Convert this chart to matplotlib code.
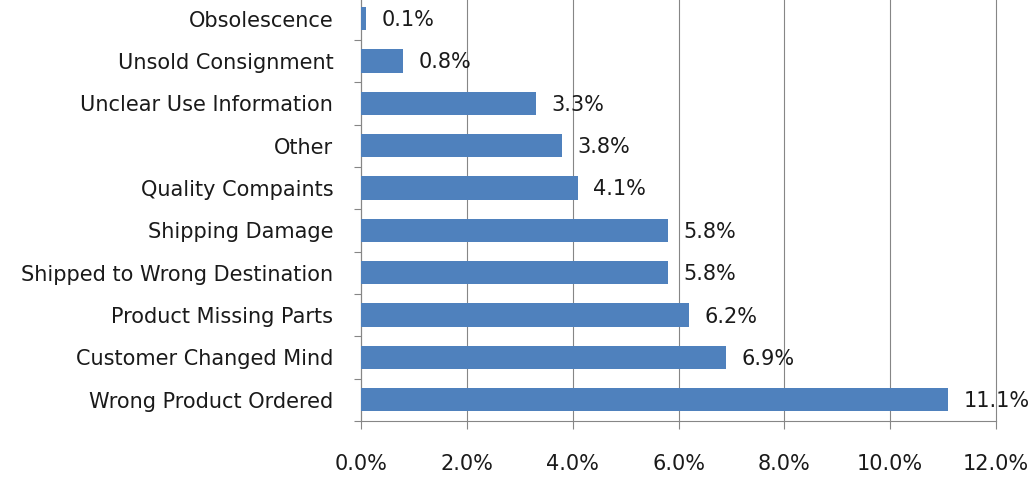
import matplotlib
matplotlib.use("Agg")
import matplotlib.pyplot as plt
from matplotlib.ticker import FixedLocator, FuncFormatter
import numpy as np

categories = [
    "Wrong Product Ordered",
    "Customer Changed Mind",
    "Product Missing Parts",
    "Shipped to Wrong Destination",
    "Shipping Damage",
    "Quality Compaints",
    "Other",
    "Unclear Use Information",
    "Unsold Consignment",
    "Obsolescence",
]
values = [11.1, 6.9, 6.2, 5.8, 5.8, 4.1, 3.8, 3.3, 0.8, 0.1]
x_ticks = [0, 2, 4, 6, 8, 10, 12]

bar_color = "#4F81BD"
grid_color = "#868686"
text_color = "#1a1a1a"
fs = 15

plt.rcParams["font.family"] = ["DejaVu Sans"]

fig = plt.figure(figsize=(10.36, 4.78), dpi=100)
ax = fig.add_axes([0.3485, 0.1192, 0.6129, 0.886])

y = np.arange(len(categories))
ax.barh(y, values, height=0.55, color=bar_color, zorder=3)

for yi, v in zip(y, values):
    ax.annotate(f"{v:.1f}%", xy=(v, yi), xytext=(11, -1), textcoords="offset points",
                va="center", ha="left", fontsize=fs, color=text_color, zorder=4)

ax.set_xlim(0, 12)
ax.set_ylim(-0.5, len(categories) - 0.5)
ax.xaxis.set_major_locator(FixedLocator(x_ticks))
ax.xaxis.set_major_formatter(FuncFormatter(lambda v, p: f"{v:.1f}%"))
ax.set_yticks(y)
ax.set_yticklabels(categories)
ax.yaxis.set_minor_locator(FixedLocator(np.arange(-0.5, len(categories), 1.0)))

ax.grid(axis="x", color=grid_color, linewidth=0.8, zorder=0)
for gl in ax.xaxis.get_gridlines():
    gl.set_clip_on(False)
for side in ("top", "right"):
    ax.spines[side].set_visible(False)
for side in ("left", "bottom"):
    ax.spines[side].set_color(grid_color)
    ax.spines[side].set_linewidth(0.8)

ax.tick_params(axis="x", which="major", length=6, width=0.8, color=grid_color,
               pad=18, labelsize=fs, labelcolor=text_color)
ax.tick_params(axis="y", which="major", length=0, pad=20, labelsize=fs,
               labelcolor=text_color)
ax.tick_params(axis="y", which="minor", length=5, width=0.8, color=grid_color)

fig.savefig("out.png", dpi=100)
